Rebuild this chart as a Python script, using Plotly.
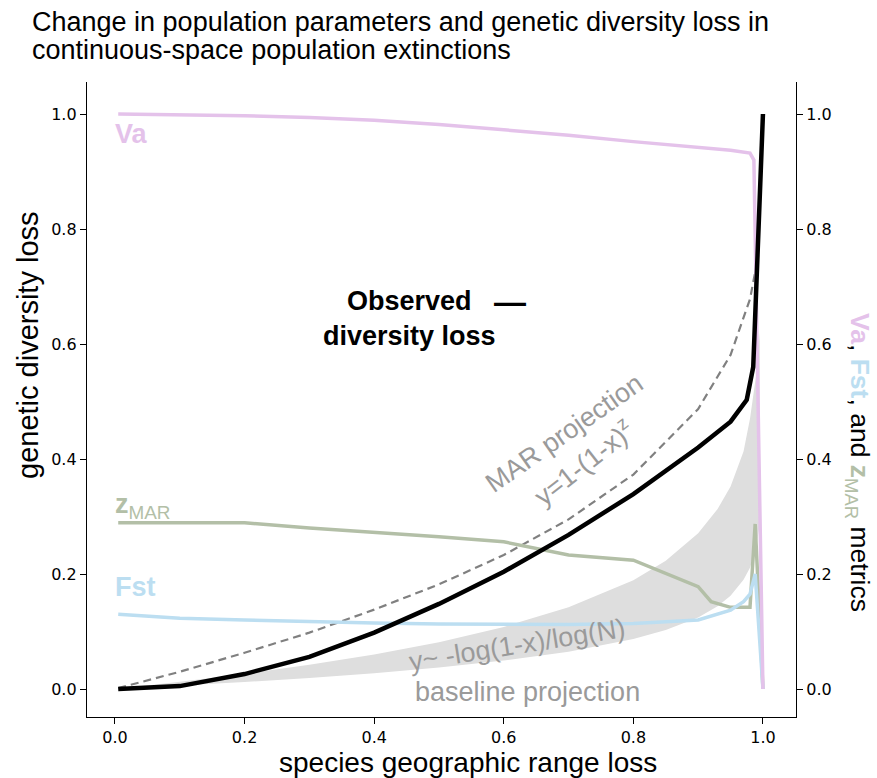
import plotly.graph_objects as go

# ---- data -------------------------------------------------------------
# observed genetic diversity loss vs. fraction of range lost
obs_x = [0.005, 0.1, 0.2, 0.3, 0.4, 0.5, 0.6, 0.7, 0.8, 0.9, 0.95, 0.975, 0.985, 0.99, 1.0]
obs_y = [0.0, 0.005, 0.026, 0.056, 0.098, 0.148, 0.204, 0.268, 0.339, 0.42, 0.465, 0.503, 0.56, 0.70, 1.0]

# MAR projection  y = 1-(1-x)^z
mar_x = [0.005, 0.1, 0.2, 0.3, 0.4, 0.5, 0.6, 0.7, 0.8, 0.9, 0.95, 0.98, 0.99]
mar_y = [0.0015, 0.030, 0.063, 0.098, 0.138, 0.182, 0.233, 0.295, 0.373, 0.487, 0.581, 0.678, 0.737]

# baseline projection band  y ~ -log(1-x)/log(N)
band_x = [0.005, 0.1, 0.2, 0.3, 0.4, 0.5, 0.6, 0.7, 0.8, 0.85, 0.9, 0.93, 0.95, 0.97, 0.98, 0.99, 0.995]
band_lo = [0.0003, 0.0057, 0.0121, 0.0193, 0.0276, 0.0375, 0.0495, 0.065, 0.087, 0.1025, 0.1245,
           0.144, 0.162, 0.19, 0.211, 0.249, 0.286]
band_hi = [0.0006, 0.0124, 0.0263, 0.042, 0.060, 0.0815, 0.108, 0.142, 0.189, 0.223, 0.271,
           0.313, 0.352, 0.413, 0.47, 0.55, 0.62]

# population metrics (right axis)
va_x = [0.005, 0.1, 0.2, 0.3, 0.4, 0.5, 0.6, 0.7, 0.8, 0.9, 0.95, 0.98, 0.986, 0.99, 1.0]
va_y = [1.0, 0.999, 0.997, 0.994, 0.989, 0.982, 0.973, 0.963, 0.952, 0.942, 0.937, 0.932, 0.92, 0.66, 0.0]

fst_x = [0.005, 0.1, 0.2, 0.3, 0.4, 0.5, 0.6, 0.7, 0.8, 0.9, 0.95, 0.97, 0.98, 0.988, 1.0]
fst_y = [0.13, 0.123, 0.12, 0.117, 0.115, 0.113, 0.112, 0.112, 0.114, 0.12, 0.137, 0.152, 0.165, 0.2, 0.0]

z_x = [0.005, 0.1, 0.2, 0.3, 0.4, 0.5, 0.6, 0.7, 0.8, 0.9, 0.92, 0.95, 0.98, 0.988, 1.0]
z_y = [0.289, 0.289, 0.289, 0.28, 0.273, 0.265, 0.256, 0.233, 0.224, 0.178, 0.152, 0.142, 0.142, 0.287, 0.0]

ticks = [0.0, 0.2, 0.4, 0.6, 0.8, 1.0]
tick_text = ["0.0", "0.2", "0.4", "0.6", "0.8", "1.0"]

# ---- styling ------------------------------------------------------------
VA_C = "#e4c2ea"
FST_C = "#bcdef1"
Z_C = "#b3bfa7"
BAND_C = "#dedede"
TXT_GRAY = "#9a9a9a"
SANS = "Liberation Sans, Arial, Helvetica, sans-serif"
TICKF = dict(family="DejaVu Sans", size=16, color="black")

fig = go.Figure()

# band: lower edge then upper edge filled to it
fig.add_trace(go.Scatter(x=band_x, y=band_lo, mode="lines", line=dict(width=0, color=BAND_C),
                         hoverinfo="skip", showlegend=False))
fig.add_trace(go.Scatter(x=band_x, y=band_hi, mode="lines", line=dict(width=0, color=BAND_C),
                         fill="tonexty", fillcolor=BAND_C, hoverinfo="skip", showlegend=False))

fig.add_trace(go.Scatter(x=mar_x, y=mar_y, mode="lines",
                         line=dict(color="#808080", width=2.2, dash="8px,5px"), showlegend=False))

fig.add_trace(go.Scatter(x=z_x, y=z_y, mode="lines", yaxis="y2",
                         line=dict(color=Z_C, width=3.5), showlegend=False))
fig.add_trace(go.Scatter(x=fst_x, y=fst_y, mode="lines", yaxis="y2",
                         line=dict(color=FST_C, width=3.5), showlegend=False))
fig.add_trace(go.Scatter(x=va_x, y=va_y, mode="lines", yaxis="y2",
                         line=dict(color=VA_C, width=3.5), showlegend=False))
# observed loss drawn last so it sits on top (same 0-1 scale on both axes)
fig.add_trace(go.Scatter(x=obs_x, y=obs_y, mode="lines", yaxis="y2",
                         line=dict(color="black", width=4.5), showlegend=False))

YR = [-0.0487, 1.0557]
axis_common = dict(showgrid=False, zeroline=False, showline=True, linecolor="black", linewidth=1.3,
                   ticks="outside", ticklen=6, tickwidth=1.3, tickcolor="black",
                   tickvals=ticks, ticktext=tick_text, tickfont=TICKF)

fig.update_layout(
    width=877, height=778,
    margin=dict(l=87, r=81, t=82, b=61),
    plot_bgcolor="white", paper_bgcolor="white",
    xaxis=dict(range=[-0.0432, 1.051], **axis_common),
    yaxis=dict(range=YR, **axis_common),
    yaxis2=dict(range=YR, overlaying="y", side="right", **axis_common),
    showlegend=False,
)

ann = []
def A(text, x, y, xref="x", yref="y", size=27, color="black", angle=0, xanchor="center",
      yanchor="middle", align="center"):
    ann.append(dict(text=text, x=x, y=y, xref=xref, yref=yref, showarrow=False,
                    font=dict(family=SANS, size=size, color=color), textangle=angle,
                    xanchor=xanchor, yanchor=yanchor, align=align))

def px(xp):
    return (xp - 87) / 709

def py(yp):
    return (717 - yp) / 635

# title (two lines, left aligned)
A("Change in population parameters and genetic diversity loss in", px(30), py(22),
  xref="paper", yref="paper", size=27, xanchor="left")
A("continuous-space population extinctions", px(30), py(50),
  xref="paper", yref="paper", size=27, xanchor="left")

# axis titles
A("species geographic range loss", px(468), py(762), xref="paper", yref="paper", size=28)
A("genetic diversity loss", px(28), py(345), xref="paper", yref="paper", size=29, angle=-90)
A("<span style='color:%s'><b>Va</b></span>, <span style='color:%s'><b>Fst</b></span>, and "
  "<span style='color:%s'><b>z</b><sub>MAR</sub></span> metrics" % (VA_C, FST_C, Z_C),
  px(858), py(462), xref="paper", yref="paper", size=26.5, angle=90)

# series labels
A("<b>Va</b>", -0.003, 0.965, size=27, color=VA_C, xanchor="left")
A("<b>z</b><sub>MAR</sub>", -0.003, 0.318, size=27, color=Z_C, xanchor="left")
A("<b>Fst</b>", -0.003, 0.177, size=27, color=FST_C, xanchor="left")
A("<b>Observed<br>diversity loss</b>", 0.455, 0.645, size=27)
A("<b>—</b>", 0.61, 0.673, size=32)

# projection labels
A("MAR projection", 0.694, 0.445, size=27, color=TXT_GRAY, angle=-35)
A("y=1-(1-x)<sup>z</sup>", 0.722, 0.395, size=27, color=TXT_GRAY, angle=-38)
A("y~ -log(1-x)/log(N)", 0.62, 0.076, size=27, color=TXT_GRAY, angle=-9)
A("baseline projection", 0.637, -0.005, size=27, color=TXT_GRAY)

fig.update_layout(annotations=ann)
fig.write_html("out.html")
